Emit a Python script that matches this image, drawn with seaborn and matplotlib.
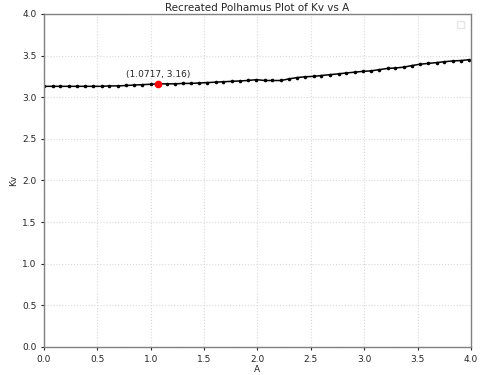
import pandas as pd
import matplotlib
matplotlib.use('Agg')
import matplotlib.pyplot as plt
import seaborn as sns

# Polhamus Kv values
A = [0.00, 0.08, 0.15, 0.23, 0.31, 0.38, 0.46, 0.54, 0.61, 0.69,
     0.77, 0.84, 0.92, 1.00, 1.07, 1.15, 1.23, 1.30, 1.38, 1.45,
     1.53, 1.61, 1.68, 1.76, 1.84, 1.91, 1.99, 2.07, 2.14, 2.22,
     2.30, 2.37, 2.45, 2.53, 2.60, 2.68, 2.76, 2.83, 2.91, 2.99,
     3.06, 3.14, 3.22, 3.29, 3.37, 3.45, 3.52, 3.60, 3.68, 3.75,
     3.83, 3.91, 3.98]
Kv = [3.13, 3.13, 3.13, 3.13, 3.13, 3.13, 3.13, 3.13, 3.135, 3.135,
      3.14, 3.145, 3.15, 3.155, 3.16, 3.16, 3.16, 3.165, 3.165, 3.17,
      3.175, 3.18, 3.185, 3.19, 3.195, 3.20, 3.21, 3.20, 3.20, 3.20,
      3.22, 3.235, 3.245, 3.25, 3.26, 3.27, 3.28, 3.29, 3.30, 3.31,
      3.315, 3.33, 3.345, 3.35, 3.36, 3.38, 3.395, 3.405, 3.415, 3.425,
      3.435, 3.44, 3.45]
highlight_A = 1.0717
highlight_Kv = 3.16

df = pd.DataFrame({'A': A, 'Kv': Kv})

sns.set_style("whitegrid", {'grid.linestyle': ':', 'grid.color': '#d8d8d8',
                            'axes.edgecolor': '#808080'})
plt.rcParams['font.family'] = ['DejaVu Sans']

fig = plt.figure(figsize=(4.81, 3.75), dpi=100)
ax = fig.add_axes([0.0915, 0.0747, 0.8875, 0.8883])

sns.lineplot(data=df, x='A', y='Kv', color='black', marker='o', markersize=2.6,
             markeredgewidth=0, linewidth=1.1, ax=ax)
ax.plot([highlight_A], [highlight_Kv], 'o', color='red', markersize=4.5)
ax.annotate(f'({highlight_A}, {highlight_Kv})', (highlight_A, highlight_Kv),
            xytext=(0, 5), textcoords='offset points', ha='center', fontsize=6.5)

ax.set_xlim(0, 4)
ax.set_ylim(0, 4)
ax.set_xticks([0, 0.5, 1, 1.5, 2, 2.5, 3, 3.5, 4])
ax.set_yticks([0, 0.5, 1, 1.5, 2, 2.5, 3, 3.5, 4])
ax.tick_params(labelsize=6.5, length=2, left=True, bottom=True)
ax.set_xlabel('A', fontsize=6.5, labelpad=1)
ax.set_ylabel('Kv', fontsize=6.5, labelpad=3)
ax.set_title('Recreated Polhamus Plot of Kv vs A', fontsize=7.5, pad=2)
for s in ax.spines.values():
    s.set_linewidth(1.0)
leg = ax.legend(handles=[], loc='upper right', borderpad=0.25, fancybox=False)
leg.get_frame().set_edgecolor('#e0e0e0')

fig.savefig('out.png', dpi=100)
